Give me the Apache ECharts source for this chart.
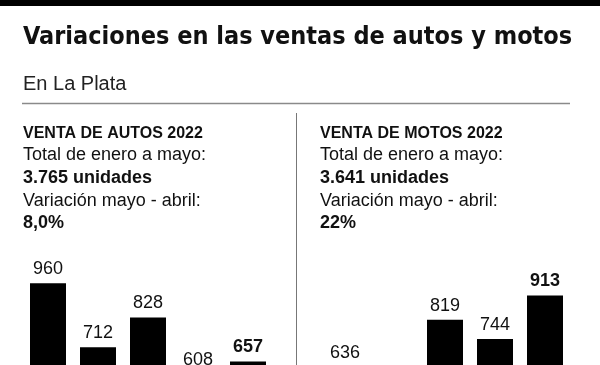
<!DOCTYPE html>
<html>
<head>
<meta charset="utf-8">
<script src="https://cdn.jsdelivr.net/npm/echarts@6/dist/echarts.min.js"></script>
<style>
html,body{margin:0;padding:0;background:#fff;}
#c{width:600px;height:365px;}
</style>
</head>
<body>
<div id="c"></div>
<script>
// Data
const months = ['Enero', 'Febrero', 'Marzo', 'Abril', 'Mayo'];
const autos = [960, 712, 828, 608, 657];
const motos = [636, 529, 819, 744, 913];

const titleText = 'Variaciones en las ventas de autos y motos';
const subtitleText = 'En La Plata';
const autosLines = ['VENTA DE AUTOS 2022', 'Total de enero a mayo:', '3.765 unidades', 'Variación mayo - abril:', '8,0%'];
const motosLines = ['VENTA DE MOTOS 2022', 'Total de enero a mayo:', '3.641 unidades', 'Variación mayo - abril:', '22%'];

const chart = echarts.init(document.getElementById('c'), null, {renderer: 'canvas'});
const FONT = '"Liberation Sans", Arial, sans-serif';

function panelText(lines, x) {
  const ys = [126, 146, 169, 192, 214];
  const sizes = [16, 18, 18, 18, 18];
  const weights = ['bold', 'normal', 'bold', 'normal', 'bold'];
  return lines.map((t, i) => ({
    type: 'text', left: x, top: ys[i],
    style: {text: t, font: weights[i] + ' ' + sizes[i] + 'px ' + FONT, fill: '#111'}
  }));
}

function barData(vals) {
  return vals.map((v, i) => i === vals.length - 1
    ? {value: v, label: {fontWeight: 'bold'}}
    : v);
}

const labelStyle = {show: true, position: 'top', distance: 5, fontSize: 18, color: '#111', fontFamily: FONT};

chart.setOption({
  animation: false,
  grid: [
    {left: 23, width: 250, top: 273, height: 258, outerBoundsMode: 'none', containLabel: false},
    {left: 320, width: 250, top: 273, height: 258, outerBoundsMode: 'none', containLabel: false}
  ],
  xAxis: [
    {type: 'category', data: months, gridIndex: 0, show: false},
    {type: 'category', data: months, gridIndex: 1, show: false}
  ],
  yAxis: [
    {type: 'value', min: 0, max: 1000, gridIndex: 0, show: false, splitLine: {show: false}},
    {type: 'value', min: 0, max: 1000, gridIndex: 1, show: false, splitLine: {show: false}}
  ],
  series: [
    {type: 'bar', xAxisIndex: 0, yAxisIndex: 0, data: barData(autos), barWidth: 36, itemStyle: {color: '#000'}, label: labelStyle},
    {type: 'bar', xAxisIndex: 1, yAxisIndex: 1, data: barData(motos), barWidth: 36, itemStyle: {color: '#000'}, label: labelStyle}
  ],
  graphic: [
    {type: 'rect', shape: {x: 0, y: 0, width: 600, height: 6}, style: {fill: '#000'}},
    {type: 'text', left: 23, top: 25, style: {text: titleText, font: 'bold 25px "Liberation Sans Narrow", "DejaVu Sans Condensed", sans-serif', fill: '#111'}},
    {type: 'text', left: 23, top: 74, style: {text: subtitleText, font: 'normal 20px ' + FONT, fill: '#222'}},
    {type: 'line', shape: {x1: 22, y1: 103.5, x2: 570, y2: 103.5}, style: {stroke: '#8a8a8a', lineWidth: 1.5}},
    {type: 'line', shape: {x1: 296.5, y1: 113, x2: 296.5, y2: 365}, style: {stroke: '#777', lineWidth: 1}}
  ].concat(panelText(autosLines, 23), panelText(motosLines, 320))
});
</script>
</body>
</html>
